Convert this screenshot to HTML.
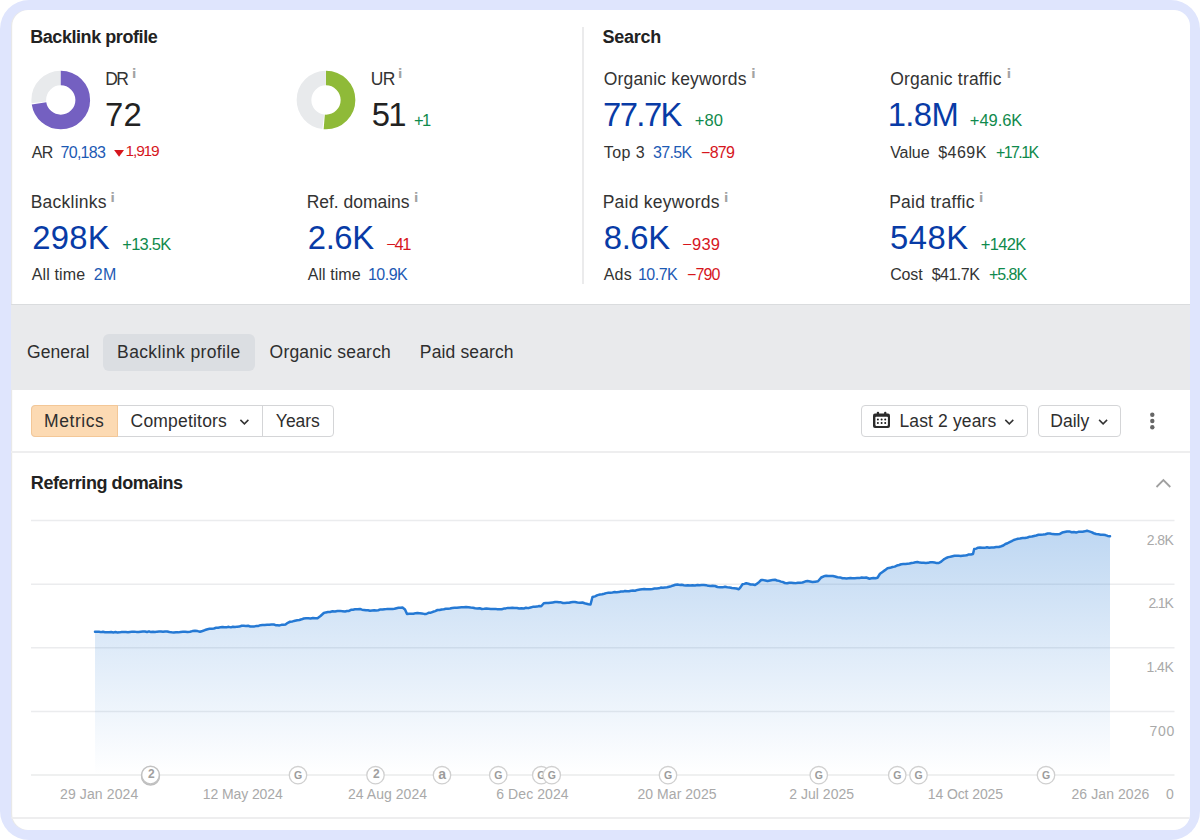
<!DOCTYPE html>
<html lang="en">
<head>
<meta charset="utf-8">
<title>Backlink profile overview</title>
<style>
*{box-sizing:border-box;margin:0;padding:0}
html,body{width:1200px;height:840px;background:#fff;overflow:hidden}
body{font-family:"Liberation Sans", Arial, sans-serif;position:relative}
.frame{position:absolute;left:0;top:0;width:1200px;height:840px;background:#dfe5fd;border-radius:29px}
.card{position:absolute;left:10.6px;top:10px;width:1179.4px;height:820px;background:#fff;border-radius:16px;overflow:hidden;box-shadow:inset 1.2px 0 0 rgba(0,0,0,0.09)}
.page{position:absolute;left:-10.6px;top:-10px;width:1200px;height:840px}
.t{position:absolute;white-space:nowrap;line-height:1}
.inf{font-family:"DejaVu Sans","Liberation Sans",sans-serif;font-size:12.5px;font-weight:700;color:#a3a3a3}
.svg{position:absolute;left:0;top:0}
.vline{position:absolute;left:582.2px;top:26.7px;width:1.9px;height:257.5px;background:#ebebec}
.band{position:absolute;left:0;top:304px;width:1200px;height:86px;background:#e9eaec;border-top:1.5px solid #dadcde}
.pill{position:absolute;left:103px;top:334px;width:152px;height:36.5px;background:#dbdee2;border-radius:6px}
.sep{position:absolute;left:0;width:1200px;height:2px;background:#eeeeef}
.btn{position:absolute;top:405.3px;height:31.5px;border:1.4px solid #d4d5d7;background:#fff;border-radius:4px}
.seg{position:absolute;top:405.3px;height:31.5px;background:#fcdab3;border:1.2px solid #f3c797;border-radius:4px 0 0 4px}
.vdiv{position:absolute;top:405.3px;width:1.3px;height:31.5px;background:#d4d5d7}
</style>
</head>
<body>
<div class="frame"></div>
<div class="card"><div class="page">
<div class="vline"></div>
<div class="band"></div>
<div class="pill"></div>
<div class="sep" style="top:451px"></div>
<div class="sep" style="top:816.8px;height:1.8px"></div>
<div class="btn" style="left:31px;width:302.5px"></div>
<div class="seg" style="left:31px;width:86.5px"></div>
<div class="vdiv" style="left:261.5px"></div>
<div class="btn" style="left:860.5px;width:167.5px"></div>
<div class="btn" style="left:1038.3px;width:82.5px"></div>
<svg class="svg" width="1200" height="840" viewBox="0 0 1200 840">
<defs><linearGradient id="ag" gradientUnits="userSpaceOnUse" x1="0" y1="521" x2="0" y2="775"><stop offset="0" stop-color="#3a86d8" stop-opacity="0.34"/><stop offset="0.55" stop-color="#3a86d8" stop-opacity="0.15"/><stop offset="1" stop-color="#3a86d8" stop-opacity="0"/></linearGradient></defs>
<g transform="rotate(-90 60.75 100)"><circle cx="60.75" cy="100" r="22" fill="none" stroke="#e8eaec" stroke-width="14.7" stroke-dasharray="36.70 101.53" stroke-dashoffset="-100.53"/><circle cx="60.75" cy="100" r="22" fill="none" stroke="#7460c1" stroke-width="14.7" stroke-dasharray="99.53 38.70"/></g>
<g transform="rotate(-90 326 100)"><circle cx="326" cy="100" r="22" fill="none" stroke="#e8eaec" stroke-width="14.7" stroke-dasharray="65.73 72.50" stroke-dashoffset="-71.50"/><circle cx="326" cy="100" r="22" fill="none" stroke="#8fba38" stroke-width="14.7" stroke-dasharray="70.50 67.73"/></g>
<path d="M114.1,150 h9.9 l-4.95,6.7 z" fill="#d6161d"/>
<rect x="31" y="519.75" width="1143.5" height="1.5" fill="#ebecee"/><rect x="31" y="583.5" width="1143.5" height="1.5" fill="#ebecee"/><rect x="31" y="647.0" width="1143.5" height="1.5" fill="#ebecee"/><rect x="31" y="710.75" width="1143.5" height="1.5" fill="#ebecee"/>
<path d="M95.0,631.75 L97.0,631.71 L99.0,631.66 L101.0,632.13 L103.0,631.79 L105.0,632.20 L107.1,632.28 L109.2,632.20 L111.2,632.01 L113.3,632.41 L115.4,632.10 L117.5,632.50 L119.6,632.37 L121.7,632.01 L123.8,631.94 L125.8,632.11 L127.9,632.33 L130.0,632.00 L132.1,631.64 L134.3,631.65 L136.4,631.88 L138.6,632.05 L140.7,631.70 L142.9,631.49 L145.0,631.50 L147.0,631.96 L149.0,631.36 L151.0,632.07 L153.0,631.74 L155.0,632.00 L157.0,631.63 L159.0,631.51 L161.0,631.55 L163.0,631.84 L165.0,631.50 L167.2,631.51 L169.4,632.06 L171.6,632.36 L173.8,632.50 L176.0,632.32 L178.3,632.37 L180.6,631.92 L182.9,631.83 L185.2,631.86 L187.5,632.00 L190.0,631.72 L192.5,631.11 L195.0,630.75 L197.5,631.11 L200.0,631.75 L202.5,630.98 L205.0,630.05 L207.5,629.25 L209.6,628.78 L211.8,628.83 L213.9,628.44 L216.1,627.77 L218.2,627.70 L220.4,627.34 L222.5,627.00 L224.6,627.29 L226.7,627.17 L228.8,626.84 L230.8,627.36 L232.9,626.71 L235.0,627.00 L237.2,626.63 L239.4,626.57 L241.6,625.80 L243.8,625.75 L245.9,625.93 L248.1,625.77 L250.3,626.44 L252.5,626.50 L254.5,626.40 L256.5,625.96 L258.5,625.89 L260.5,625.16 L262.5,625.00 L264.8,625.05 L267.0,624.87 L269.2,624.76 L271.5,624.57 L273.8,624.50 L275.6,625.13 L277.5,625.25 L279.5,625.40 L281.5,624.86 L283.5,624.81 L285.5,624.50 L287.8,622.79 L290.0,621.75 L292.5,621.40 L295.0,620.75 L297.2,620.30 L299.4,620.00 L301.6,619.31 L303.8,618.50 L306.0,618.29 L308.3,618.33 L310.6,618.50 L312.9,617.97 L315.2,618.26 L317.5,618.25 L320.5,616.00 L323.8,613.00 L325.8,612.41 L327.9,612.04 L330.0,612.00 L332.5,611.33 L335.0,611.54 L337.5,611.00 L340.0,610.88 L342.5,611.14 L345.0,611.50 L347.0,610.97 L349.0,610.88 L351.0,609.83 L353.0,609.66 L355.0,609.25 L357.5,609.16 L360.0,609.00 L362.0,609.64 L364.0,609.94 L366.0,610.33 L368.0,610.23 L370.0,610.75 L372.1,610.48 L374.2,610.23 L376.2,610.42 L378.3,610.26 L380.4,609.44 L382.5,609.50 L384.5,609.15 L386.5,609.10 L388.5,609.00 L390.5,609.09 L392.5,609.00 L394.5,608.77 L396.5,608.22 L398.5,607.72 L400.5,607.74 L402.5,607.50 L405.0,609.50 L407.0,614.00 L409.1,613.70 L411.2,613.65 L413.3,613.74 L415.4,613.34 L417.5,613.00 L419.7,613.26 L421.9,613.59 L424.1,613.88 L426.2,614.00 L428.5,612.86 L430.8,612.70 L433.0,611.81 L435.2,611.08 L437.5,610.00 L439.6,609.98 L441.7,609.42 L443.8,609.17 L445.8,608.70 L447.9,608.85 L450.0,608.50 L452.3,607.96 L454.6,607.75 L456.9,607.65 L459.2,607.41 L461.5,607.34 L463.8,607.25 L466.0,607.12 L468.3,607.29 L470.6,607.61 L472.9,607.78 L475.2,608.19 L477.5,608.50 L479.7,608.22 L481.9,608.95 L484.2,608.84 L486.4,608.57 L488.6,608.73 L490.8,608.88 L493.1,608.98 L495.3,608.88 L497.5,609.25 L499.6,609.31 L501.7,609.21 L503.8,608.60 L505.8,608.40 L507.9,607.89 L510.0,608.00 L512.3,607.78 L514.6,608.05 L516.9,608.07 L519.2,608.58 L521.5,608.16 L523.8,608.50 L526.0,607.79 L528.2,608.14 L530.5,607.47 L532.8,606.83 L535.0,606.75 L537.1,606.62 L539.2,606.06 L541.2,606.25 L543.8,603.25 L546.0,603.02 L548.2,603.11 L550.5,602.78 L552.8,602.40 L555.0,602.00 L557.0,602.02 L559.0,602.30 L561.0,602.35 L563.0,603.01 L565.0,603.00 L567.0,602.82 L569.0,602.81 L571.0,602.27 L573.0,601.99 L575.0,602.00 L577.5,602.40 L580.0,602.70 L582.5,602.50 L584.5,603.27 L586.5,603.73 L588.5,604.24 L590.5,604.50 L592.5,597.00 L595.0,596.35 L597.5,595.13 L600.0,594.50 L602.1,594.18 L604.2,593.72 L606.2,593.14 L608.3,592.81 L610.4,592.67 L612.5,592.50 L614.6,592.07 L616.7,592.15 L618.8,592.10 L620.8,591.46 L622.9,591.58 L625.0,591.00 L627.0,591.32 L629.0,591.25 L631.0,590.75 L633.0,590.59 L635.0,590.75 L637.5,589.92 L640.0,589.50 L642.1,589.19 L644.2,589.11 L646.2,589.25 L648.3,589.15 L650.4,589.17 L652.5,588.93 L654.6,588.46 L656.7,588.39 L658.8,588.31 L660.8,587.57 L662.9,587.82 L665.0,587.50 L667.1,587.31 L669.2,586.71 L671.2,586.19 L673.3,585.48 L675.4,584.76 L677.5,584.50 L679.6,584.89 L681.7,584.71 L683.8,585.23 L685.8,585.53 L687.9,585.25 L690.0,585.50 L692.5,585.26 L695.0,585.51 L697.5,585.00 L699.6,585.28 L701.8,584.96 L703.9,585.04 L706.1,585.16 L708.2,585.84 L710.4,585.88 L712.5,585.75 L715.0,585.98 L717.5,587.00 L720.0,587.25 L722.5,587.37 L725.0,586.75 L727.3,587.29 L729.6,587.47 L731.9,588.04 L734.2,588.14 L736.5,588.46 L738.8,589.25 L740.6,587.11 L742.5,584.25 L744.4,583.86 L746.2,583.25 L748.4,583.71 L750.6,584.45 L752.8,584.51 L755.0,585.00 L757.1,583.62 L759.2,581.91 L761.2,580.00 L763.3,580.11 L765.4,580.48 L767.5,581.00 L770.0,580.43 L772.5,579.97 L775.0,579.75 L777.0,580.47 L779.0,580.87 L781.0,581.64 L783.0,582.07 L785.0,583.00 L787.1,583.28 L789.3,582.82 L791.4,582.86 L793.6,582.92 L795.7,583.13 L797.9,582.73 L800.0,582.75 L802.5,582.48 L805.0,581.58 L807.5,581.00 L810.0,581.52 L812.5,582.00 L815.2,581.64 L818.0,581.25 L821.2,577.50 L823.8,576.26 L826.2,575.75 L828.4,575.89 L830.6,575.88 L832.8,575.94 L835.0,576.50 L837.5,577.31 L840.0,577.42 L842.5,578.25 L844.5,578.23 L846.5,578.42 L848.5,578.29 L850.5,578.12 L852.5,578.25 L854.8,578.14 L857.1,578.04 L859.4,578.09 L861.7,577.45 L864.0,577.67 L866.2,577.50 L869.5,578.75 L871.5,578.31 L873.5,578.08 L875.5,578.21 L877.5,577.75 L880.0,573.75 L882.5,571.92 L885.0,570.13 L887.5,568.25 L890.0,567.82 L892.5,567.00 L894.7,566.63 L896.9,565.58 L899.1,565.02 L901.2,564.25 L903.3,564.09 L905.4,563.93 L907.5,563.75 L909.5,563.55 L911.5,563.01 L913.5,562.73 L915.5,562.33 L917.5,562.00 L919.6,562.59 L921.7,562.65 L923.8,562.75 L925.9,562.91 L928.1,562.84 L930.3,562.19 L932.5,562.25 L934.6,562.55 L936.7,563.09 L938.8,563.00 L941.2,561.59 L943.8,559.39 L946.2,558.00 L948.3,557.13 L950.4,556.79 L952.5,556.25 L954.5,555.83 L956.5,555.85 L958.5,555.63 L960.5,555.98 L962.5,555.75 L964.6,555.62 L966.7,555.35 L968.8,554.44 L970.9,554.51 L973.0,554.00 L974.2,549.00 L976.2,548.62 L978.1,547.73 L980.0,547.50 L982.3,547.79 L984.6,547.86 L986.9,547.29 L989.2,547.84 L991.5,547.42 L993.8,547.50 L996.2,547.07 L998.8,547.04 L1001.2,546.25 L1003.3,545.50 L1005.4,543.99 L1007.5,543.25 L1009.6,542.11 L1011.7,541.10 L1013.8,540.00 L1015.8,539.38 L1017.9,538.77 L1020.0,538.50 L1022.5,538.03 L1025.0,538.00 L1027.5,537.50 L1029.7,536.63 L1031.9,536.54 L1034.1,535.95 L1036.2,535.50 L1038.5,534.80 L1040.8,534.71 L1043.1,534.59 L1045.4,534.18 L1047.7,533.50 L1050.0,533.50 L1052.5,534.12 L1055.0,534.22 L1057.5,534.25 L1059.9,533.92 L1062.2,532.57 L1064.6,532.01 L1067.0,531.50 L1069.3,531.40 L1071.6,532.21 L1073.9,532.08 L1076.2,532.50 L1078.4,531.87 L1080.5,531.74 L1082.7,531.76 L1084.8,531.34 L1087.0,530.75 L1089.2,531.40 L1091.5,532.15 L1093.8,533.25 L1096.1,534.00 L1098.4,534.16 L1100.7,534.69 L1103.0,534.65 L1105.4,535.06 L1107.7,535.96 L1110.0,536.25 L1110,775 L95,775 Z" fill="url(#ag)"/>
<rect x="31" y="774.25" width="1143.5" height="1.5" fill="#eaebec"/>
<path d="M95.0,631.75 L97.0,631.71 L99.0,631.66 L101.0,632.13 L103.0,631.79 L105.0,632.20 L107.1,632.28 L109.2,632.20 L111.2,632.01 L113.3,632.41 L115.4,632.10 L117.5,632.50 L119.6,632.37 L121.7,632.01 L123.8,631.94 L125.8,632.11 L127.9,632.33 L130.0,632.00 L132.1,631.64 L134.3,631.65 L136.4,631.88 L138.6,632.05 L140.7,631.70 L142.9,631.49 L145.0,631.50 L147.0,631.96 L149.0,631.36 L151.0,632.07 L153.0,631.74 L155.0,632.00 L157.0,631.63 L159.0,631.51 L161.0,631.55 L163.0,631.84 L165.0,631.50 L167.2,631.51 L169.4,632.06 L171.6,632.36 L173.8,632.50 L176.0,632.32 L178.3,632.37 L180.6,631.92 L182.9,631.83 L185.2,631.86 L187.5,632.00 L190.0,631.72 L192.5,631.11 L195.0,630.75 L197.5,631.11 L200.0,631.75 L202.5,630.98 L205.0,630.05 L207.5,629.25 L209.6,628.78 L211.8,628.83 L213.9,628.44 L216.1,627.77 L218.2,627.70 L220.4,627.34 L222.5,627.00 L224.6,627.29 L226.7,627.17 L228.8,626.84 L230.8,627.36 L232.9,626.71 L235.0,627.00 L237.2,626.63 L239.4,626.57 L241.6,625.80 L243.8,625.75 L245.9,625.93 L248.1,625.77 L250.3,626.44 L252.5,626.50 L254.5,626.40 L256.5,625.96 L258.5,625.89 L260.5,625.16 L262.5,625.00 L264.8,625.05 L267.0,624.87 L269.2,624.76 L271.5,624.57 L273.8,624.50 L275.6,625.13 L277.5,625.25 L279.5,625.40 L281.5,624.86 L283.5,624.81 L285.5,624.50 L287.8,622.79 L290.0,621.75 L292.5,621.40 L295.0,620.75 L297.2,620.30 L299.4,620.00 L301.6,619.31 L303.8,618.50 L306.0,618.29 L308.3,618.33 L310.6,618.50 L312.9,617.97 L315.2,618.26 L317.5,618.25 L320.5,616.00 L323.8,613.00 L325.8,612.41 L327.9,612.04 L330.0,612.00 L332.5,611.33 L335.0,611.54 L337.5,611.00 L340.0,610.88 L342.5,611.14 L345.0,611.50 L347.0,610.97 L349.0,610.88 L351.0,609.83 L353.0,609.66 L355.0,609.25 L357.5,609.16 L360.0,609.00 L362.0,609.64 L364.0,609.94 L366.0,610.33 L368.0,610.23 L370.0,610.75 L372.1,610.48 L374.2,610.23 L376.2,610.42 L378.3,610.26 L380.4,609.44 L382.5,609.50 L384.5,609.15 L386.5,609.10 L388.5,609.00 L390.5,609.09 L392.5,609.00 L394.5,608.77 L396.5,608.22 L398.5,607.72 L400.5,607.74 L402.5,607.50 L405.0,609.50 L407.0,614.00 L409.1,613.70 L411.2,613.65 L413.3,613.74 L415.4,613.34 L417.5,613.00 L419.7,613.26 L421.9,613.59 L424.1,613.88 L426.2,614.00 L428.5,612.86 L430.8,612.70 L433.0,611.81 L435.2,611.08 L437.5,610.00 L439.6,609.98 L441.7,609.42 L443.8,609.17 L445.8,608.70 L447.9,608.85 L450.0,608.50 L452.3,607.96 L454.6,607.75 L456.9,607.65 L459.2,607.41 L461.5,607.34 L463.8,607.25 L466.0,607.12 L468.3,607.29 L470.6,607.61 L472.9,607.78 L475.2,608.19 L477.5,608.50 L479.7,608.22 L481.9,608.95 L484.2,608.84 L486.4,608.57 L488.6,608.73 L490.8,608.88 L493.1,608.98 L495.3,608.88 L497.5,609.25 L499.6,609.31 L501.7,609.21 L503.8,608.60 L505.8,608.40 L507.9,607.89 L510.0,608.00 L512.3,607.78 L514.6,608.05 L516.9,608.07 L519.2,608.58 L521.5,608.16 L523.8,608.50 L526.0,607.79 L528.2,608.14 L530.5,607.47 L532.8,606.83 L535.0,606.75 L537.1,606.62 L539.2,606.06 L541.2,606.25 L543.8,603.25 L546.0,603.02 L548.2,603.11 L550.5,602.78 L552.8,602.40 L555.0,602.00 L557.0,602.02 L559.0,602.30 L561.0,602.35 L563.0,603.01 L565.0,603.00 L567.0,602.82 L569.0,602.81 L571.0,602.27 L573.0,601.99 L575.0,602.00 L577.5,602.40 L580.0,602.70 L582.5,602.50 L584.5,603.27 L586.5,603.73 L588.5,604.24 L590.5,604.50 L592.5,597.00 L595.0,596.35 L597.5,595.13 L600.0,594.50 L602.1,594.18 L604.2,593.72 L606.2,593.14 L608.3,592.81 L610.4,592.67 L612.5,592.50 L614.6,592.07 L616.7,592.15 L618.8,592.10 L620.8,591.46 L622.9,591.58 L625.0,591.00 L627.0,591.32 L629.0,591.25 L631.0,590.75 L633.0,590.59 L635.0,590.75 L637.5,589.92 L640.0,589.50 L642.1,589.19 L644.2,589.11 L646.2,589.25 L648.3,589.15 L650.4,589.17 L652.5,588.93 L654.6,588.46 L656.7,588.39 L658.8,588.31 L660.8,587.57 L662.9,587.82 L665.0,587.50 L667.1,587.31 L669.2,586.71 L671.2,586.19 L673.3,585.48 L675.4,584.76 L677.5,584.50 L679.6,584.89 L681.7,584.71 L683.8,585.23 L685.8,585.53 L687.9,585.25 L690.0,585.50 L692.5,585.26 L695.0,585.51 L697.5,585.00 L699.6,585.28 L701.8,584.96 L703.9,585.04 L706.1,585.16 L708.2,585.84 L710.4,585.88 L712.5,585.75 L715.0,585.98 L717.5,587.00 L720.0,587.25 L722.5,587.37 L725.0,586.75 L727.3,587.29 L729.6,587.47 L731.9,588.04 L734.2,588.14 L736.5,588.46 L738.8,589.25 L740.6,587.11 L742.5,584.25 L744.4,583.86 L746.2,583.25 L748.4,583.71 L750.6,584.45 L752.8,584.51 L755.0,585.00 L757.1,583.62 L759.2,581.91 L761.2,580.00 L763.3,580.11 L765.4,580.48 L767.5,581.00 L770.0,580.43 L772.5,579.97 L775.0,579.75 L777.0,580.47 L779.0,580.87 L781.0,581.64 L783.0,582.07 L785.0,583.00 L787.1,583.28 L789.3,582.82 L791.4,582.86 L793.6,582.92 L795.7,583.13 L797.9,582.73 L800.0,582.75 L802.5,582.48 L805.0,581.58 L807.5,581.00 L810.0,581.52 L812.5,582.00 L815.2,581.64 L818.0,581.25 L821.2,577.50 L823.8,576.26 L826.2,575.75 L828.4,575.89 L830.6,575.88 L832.8,575.94 L835.0,576.50 L837.5,577.31 L840.0,577.42 L842.5,578.25 L844.5,578.23 L846.5,578.42 L848.5,578.29 L850.5,578.12 L852.5,578.25 L854.8,578.14 L857.1,578.04 L859.4,578.09 L861.7,577.45 L864.0,577.67 L866.2,577.50 L869.5,578.75 L871.5,578.31 L873.5,578.08 L875.5,578.21 L877.5,577.75 L880.0,573.75 L882.5,571.92 L885.0,570.13 L887.5,568.25 L890.0,567.82 L892.5,567.00 L894.7,566.63 L896.9,565.58 L899.1,565.02 L901.2,564.25 L903.3,564.09 L905.4,563.93 L907.5,563.75 L909.5,563.55 L911.5,563.01 L913.5,562.73 L915.5,562.33 L917.5,562.00 L919.6,562.59 L921.7,562.65 L923.8,562.75 L925.9,562.91 L928.1,562.84 L930.3,562.19 L932.5,562.25 L934.6,562.55 L936.7,563.09 L938.8,563.00 L941.2,561.59 L943.8,559.39 L946.2,558.00 L948.3,557.13 L950.4,556.79 L952.5,556.25 L954.5,555.83 L956.5,555.85 L958.5,555.63 L960.5,555.98 L962.5,555.75 L964.6,555.62 L966.7,555.35 L968.8,554.44 L970.9,554.51 L973.0,554.00 L974.2,549.00 L976.2,548.62 L978.1,547.73 L980.0,547.50 L982.3,547.79 L984.6,547.86 L986.9,547.29 L989.2,547.84 L991.5,547.42 L993.8,547.50 L996.2,547.07 L998.8,547.04 L1001.2,546.25 L1003.3,545.50 L1005.4,543.99 L1007.5,543.25 L1009.6,542.11 L1011.7,541.10 L1013.8,540.00 L1015.8,539.38 L1017.9,538.77 L1020.0,538.50 L1022.5,538.03 L1025.0,538.00 L1027.5,537.50 L1029.7,536.63 L1031.9,536.54 L1034.1,535.95 L1036.2,535.50 L1038.5,534.80 L1040.8,534.71 L1043.1,534.59 L1045.4,534.18 L1047.7,533.50 L1050.0,533.50 L1052.5,534.12 L1055.0,534.22 L1057.5,534.25 L1059.9,533.92 L1062.2,532.57 L1064.6,532.01 L1067.0,531.50 L1069.3,531.40 L1071.6,532.21 L1073.9,532.08 L1076.2,532.50 L1078.4,531.87 L1080.5,531.74 L1082.7,531.76 L1084.8,531.34 L1087.0,530.75 L1089.2,531.40 L1091.5,532.15 L1093.8,533.25 L1096.1,534.00 L1098.4,534.16 L1100.7,534.69 L1103.0,534.65 L1105.4,535.06 L1107.7,535.96 L1110.0,536.25" fill="none" stroke="#2579d4" stroke-width="2.5" stroke-linejoin="round" stroke-linecap="round"/>
<circle cx="150.5" cy="776.1" r="8.9" fill="#fff" stroke="#bdbdbd" stroke-width="1.5"/><circle cx="150.5" cy="775.1" r="8.9" fill="#fff" stroke="#c2c2c2" stroke-width="1.5"/><text x="151.4" y="778.0" text-anchor="middle" font-size="12" font-weight="700" fill="#a0a0a0" font-family='Liberation Sans, Arial, sans-serif'>2</text><circle cx="298" cy="775.2" r="8.7" fill="#fff" stroke="#d0d0d0" stroke-width="1.3"/><text x="298.2" y="778.8" text-anchor="middle" font-size="10.5" font-weight="700" fill="#9c9c9c" font-family='Liberation Sans, Arial, sans-serif'>G</text><circle cx="375.5" cy="775.2" r="8.7" fill="#fff" stroke="#d0d0d0" stroke-width="1.3"/><text x="376.4" y="778.0" text-anchor="middle" font-size="12" font-weight="700" fill="#a0a0a0" font-family='Liberation Sans, Arial, sans-serif'>2</text><circle cx="442" cy="775.2" r="8.7" fill="#fff" stroke="#d0d0d0" stroke-width="1.3"/><text x="442.2" y="778.8" text-anchor="middle" font-size="14" font-weight="700" fill="#9c9c9c" font-family='Liberation Sans, Arial, sans-serif'>a</text><circle cx="498.25" cy="775.2" r="8.7" fill="#fff" stroke="#d0d0d0" stroke-width="1.3"/><text x="498.45" y="778.8" text-anchor="middle" font-size="10.5" font-weight="700" fill="#9c9c9c" font-family='Liberation Sans, Arial, sans-serif'>G</text><circle cx="541.25" cy="775.2" r="8.7" fill="#fff" stroke="#d0d0d0" stroke-width="1.3"/><text x="541.45" y="778.8" text-anchor="middle" font-size="10.5" font-weight="700" fill="#9c9c9c" font-family='Liberation Sans, Arial, sans-serif'>G</text><circle cx="551.75" cy="775.2" r="8.7" fill="#fff" stroke="#d0d0d0" stroke-width="1.3"/><text x="551.95" y="778.8" text-anchor="middle" font-size="10.5" font-weight="700" fill="#9c9c9c" font-family='Liberation Sans, Arial, sans-serif'>G</text><circle cx="668" cy="775.2" r="8.7" fill="#fff" stroke="#d0d0d0" stroke-width="1.3"/><text x="668.2" y="778.8" text-anchor="middle" font-size="10.5" font-weight="700" fill="#9c9c9c" font-family='Liberation Sans, Arial, sans-serif'>G</text><circle cx="818.75" cy="775.2" r="8.7" fill="#fff" stroke="#d0d0d0" stroke-width="1.3"/><text x="818.95" y="778.8" text-anchor="middle" font-size="10.5" font-weight="700" fill="#9c9c9c" font-family='Liberation Sans, Arial, sans-serif'>G</text><circle cx="897.25" cy="775.2" r="8.7" fill="#fff" stroke="#d0d0d0" stroke-width="1.3"/><text x="897.45" y="778.8" text-anchor="middle" font-size="10.5" font-weight="700" fill="#9c9c9c" font-family='Liberation Sans, Arial, sans-serif'>G</text><circle cx="918.5" cy="775.2" r="8.7" fill="#fff" stroke="#d0d0d0" stroke-width="1.3"/><text x="918.7" y="778.8" text-anchor="middle" font-size="10.5" font-weight="700" fill="#9c9c9c" font-family='Liberation Sans, Arial, sans-serif'>G</text><circle cx="1046" cy="775.2" r="8.7" fill="#fff" stroke="#d0d0d0" stroke-width="1.3"/><text x="1046.2" y="778.8" text-anchor="middle" font-size="10.5" font-weight="700" fill="#9c9c9c" font-family='Liberation Sans, Arial, sans-serif'>G</text>
<!-- chevrons -->
<path d="M240.4,419.9 l4,4 l4,-4" fill="none" stroke="#333" stroke-width="1.5"/>
<path d="M1005.3,419.9 l4,4 l4,-4" fill="none" stroke="#333" stroke-width="1.5"/>
<path d="M1099.1,419.9 l4,4 l4,-4" fill="none" stroke="#333" stroke-width="1.5"/>
<path d="M1156.5,487 l6.9,-6.9 l6.9,6.9" fill="none" stroke="#a0a0a0" stroke-width="1.8"/>
<circle cx="1152.3" cy="414.7" r="2.2" fill="#666"/><circle cx="1152.3" cy="421" r="2.2" fill="#666"/><circle cx="1152.3" cy="427.3" r="2.2" fill="#666"/>
<!-- calendar icon -->
<g fill="#2b2b2b"><rect x="873" y="413.4" width="17" height="14.7" rx="2"/><rect x="876.8" y="411.8" width="2.3" height="3.5" rx="1"/><rect x="884.1" y="411.8" width="2.3" height="3.5" rx="1"/></g>
<rect x="875.4" y="416.8" width="12.5" height="9.1" rx="0.8" fill="#fff"/>
<g fill="#1a1a1a"><circle cx="877.9" cy="419.6" r="1"/><circle cx="881.6" cy="419.6" r="1"/><circle cx="885.2" cy="419.6" r="1"/><circle cx="877.9" cy="423" r="1"/><circle cx="881.6" cy="423" r="1"/><circle cx="885.2" cy="423" r="1"/></g>
</svg>
<div class="t" style="left:30.20px;top:28.36px;font-size:18px;color:#222222;font-weight:700;letter-spacing:-0.435px;">Backlink profile</div>
<div class="t" style="left:602.60px;top:28.36px;font-size:18px;color:#222222;font-weight:700;letter-spacing:-0.289px;">Search</div>
<div class="t" style="left:105.20px;top:70.69px;font-size:17.5px;color:#333333;letter-spacing:-1.600px;">DR</div>
<div class="t" style="left:370.70px;top:70.69px;font-size:17.5px;color:#333333;letter-spacing:-0.638px;">UR</div>
<div class="t" style="left:603.70px;top:70.69px;font-size:17.5px;color:#333333;letter-spacing:0.180px;">Organic keywords</div>
<div class="t" style="left:890.20px;top:70.69px;font-size:17.5px;color:#333333;letter-spacing:0.189px;">Organic traffic</div>
<div class="t" style="left:30.70px;top:194.19px;font-size:17.5px;color:#333333;letter-spacing:0.230px;">Backlinks</div>
<div class="t" style="left:306.70px;top:194.19px;font-size:17.5px;color:#333333;letter-spacing:-0.032px;">Ref. domains</div>
<div class="t" style="left:602.70px;top:194.19px;font-size:17.5px;color:#333333;letter-spacing:0.246px;">Paid keywords</div>
<div class="t" style="left:889.20px;top:194.19px;font-size:17.5px;color:#333333;letter-spacing:0.263px;">Paid traffic</div>
<div class="t" style="left:104.90px;top:98.63px;font-size:32.8px;color:#222222;letter-spacing:0.360px;">72</div>
<div class="t" style="left:371.70px;top:98.63px;font-size:32.8px;color:#222222;letter-spacing:-1.600px;">51</div>
<div class="t" style="left:603.10px;top:98.63px;font-size:32.8px;color:#083ba6;letter-spacing:-1.600px;">77.7K</div>
<div class="t" style="left:887.75px;top:98.63px;font-size:32.8px;color:#083ba6;letter-spacing:-0.647px;">1.8M</div>
<div class="t" style="left:32.20px;top:222.13px;font-size:32.8px;color:#083ba6;letter-spacing:0.293px;">298K</div>
<div class="t" style="left:307.80px;top:222.13px;font-size:32.8px;color:#083ba6;letter-spacing:-0.397px;">2.6K</div>
<div class="t" style="left:603.80px;top:222.13px;font-size:32.8px;color:#083ba6;letter-spacing:-0.397px;">8.6K</div>
<div class="t" style="left:890.00px;top:222.13px;font-size:32.8px;color:#083ba6;letter-spacing:0.510px;">548K</div>
<div class="t" style="left:414.00px;top:112.03px;font-size:16.5px;color:#0f8a4c;letter-spacing:-1.600px;">+1</div>
<div class="t" style="left:694.80px;top:112.03px;font-size:16.5px;color:#0f8a4c;letter-spacing:0.094px;">+80</div>
<div class="t" style="left:969.80px;top:112.03px;font-size:16.5px;color:#0f8a4c;letter-spacing:-0.050px;">+49.6K</div>
<div class="t" style="left:122.30px;top:235.53px;font-size:16.5px;color:#0f8a4c;letter-spacing:-0.750px;">+13.5K</div>
<div class="t" style="left:386.30px;top:235.53px;font-size:16.5px;color:#d6161d;letter-spacing:-1.406px;">−41</div>
<div class="t" style="left:682.30px;top:235.53px;font-size:16.5px;color:#d6161d;letter-spacing:0.170px;">−939</div>
<div class="t" style="left:980.80px;top:235.53px;font-size:16.5px;color:#0f8a4c;letter-spacing:-0.666px;">+142K</div>
<div class="t" style="left:31.70px;top:144.96px;font-size:16px;color:#333333;letter-spacing:-0.672px;">AR</div>
<div class="t" style="left:60.50px;top:144.96px;font-size:16px;color:#1d5ab4;letter-spacing:-0.708px;">70,183</div>
<div class="t" style="left:125.50px;top:143.48px;font-size:15.5px;color:#d6161d;letter-spacing:-1.142px;">1,919</div>
<div class="t" style="left:603.70px;top:144.96px;font-size:16px;color:#333333;letter-spacing:0.439px;">Top 3</div>
<div class="t" style="left:653.00px;top:144.96px;font-size:16px;color:#1d5ab4;letter-spacing:-0.660px;">37.5K</div>
<div class="t" style="left:701.00px;top:144.96px;font-size:16px;color:#d6161d;letter-spacing:-0.714px;">−879</div>
<div class="t" style="left:890.20px;top:144.96px;font-size:16px;color:#333333;letter-spacing:-0.084px;">Value</div>
<div class="t" style="left:938.20px;top:144.96px;font-size:16px;color:#333333;letter-spacing:0.477px;">$469K</div>
<div class="t" style="left:996.00px;top:144.96px;font-size:16px;color:#0f8a4c;letter-spacing:-1.600px;">+17.1K</div>
<div class="t" style="left:31.70px;top:267.46px;font-size:16px;color:#333333;letter-spacing:0.135px;">All time</div>
<div class="t" style="left:93.75px;top:267.46px;font-size:16px;color:#1d5ab4;letter-spacing:0.352px;">2M</div>
<div class="t" style="left:307.70px;top:267.46px;font-size:16px;color:#333333;letter-spacing:0.064px;">All time</div>
<div class="t" style="left:368.00px;top:267.46px;font-size:16px;color:#1d5ab4;letter-spacing:-0.535px;">10.9K</div>
<div class="t" style="left:603.70px;top:267.46px;font-size:16px;color:#333333;letter-spacing:0.215px;">Ads</div>
<div class="t" style="left:638.00px;top:267.46px;font-size:16px;color:#1d5ab4;letter-spacing:-0.535px;">10.7K</div>
<div class="t" style="left:687.00px;top:267.46px;font-size:16px;color:#d6161d;letter-spacing:-0.880px;">−790</div>
<div class="t" style="left:890.20px;top:267.46px;font-size:16px;color:#333333;letter-spacing:-0.151px;">Cost</div>
<div class="t" style="left:931.70px;top:267.46px;font-size:16px;color:#333333;letter-spacing:-0.508px;">$41.7K</div>
<div class="t" style="left:989.00px;top:267.46px;font-size:16px;color:#0f8a4c;letter-spacing:-1.021px;">+5.8K</div>
<div class="t" style="left:27.00px;top:343.69px;font-size:17.5px;color:#2e2e2e;letter-spacing:0.022px;">General</div>
<div class="t" style="left:117.10px;top:343.69px;font-size:17.5px;color:#2e2e2e;letter-spacing:0.370px;">Backlink profile</div>
<div class="t" style="left:269.60px;top:343.69px;font-size:17.5px;color:#2e2e2e;letter-spacing:0.198px;">Organic search</div>
<div class="t" style="left:419.85px;top:343.69px;font-size:17.5px;color:#2e2e2e;letter-spacing:0.132px;">Paid search</div>
<div class="t" style="left:44.10px;top:412.94px;font-size:17.5px;color:#2e2e2e;letter-spacing:0.560px;">Metrics</div>
<div class="t" style="left:130.60px;top:412.94px;font-size:17.5px;color:#2e2e2e;letter-spacing:0.191px;">Competitors</div>
<div class="t" style="left:275.85px;top:412.94px;font-size:17.5px;color:#2e2e2e;letter-spacing:-0.027px;">Years</div>
<div class="t" style="left:899.50px;top:412.94px;font-size:17.5px;color:#2e2e2e;letter-spacing:0.129px;">Last 2 years</div>
<div class="t" style="left:1050.30px;top:412.94px;font-size:17.5px;color:#2e2e2e;letter-spacing:0.013px;">Daily</div>
<div class="t" style="left:30.80px;top:473.76px;font-size:18px;color:#222222;font-weight:700;letter-spacing:-0.420px;">Referring domains</div>
<div class="t" style="left:1146.70px;top:532.55px;font-size:14px;color:#a9a9a9;letter-spacing:-0.587px;">2.8K</div>
<div class="t" style="left:1148.40px;top:596.30px;font-size:14px;color:#a9a9a9;letter-spacing:-1.154px;">2.1K</div>
<div class="t" style="left:1146.40px;top:659.80px;font-size:14px;color:#a9a9a9;letter-spacing:-0.487px;">1.4K</div>
<div class="t" style="left:1149.40px;top:723.55px;font-size:14px;color:#a9a9a9;letter-spacing:0.714px;">700</div>
<div class="t" style="left:1166.10px;top:787.15px;font-size:14px;color:#a9a9a9;">0</div>
<div class="t" style="left:60.00px;top:787.25px;font-size:14px;color:#a9a9a9;letter-spacing:0.122px;">29 Jan 2024</div>
<div class="t" style="left:202.75px;top:787.25px;font-size:14px;color:#a9a9a9;letter-spacing:-0.091px;">12 May 2024</div>
<div class="t" style="left:348.00px;top:787.25px;font-size:14px;color:#a9a9a9;letter-spacing:0.038px;">24 Aug 2024</div>
<div class="t" style="left:496.25px;top:787.25px;font-size:14px;color:#a9a9a9;letter-spacing:0.076px;">6 Dec 2024</div>
<div class="t" style="left:637.50px;top:787.25px;font-size:14px;color:#a9a9a9;letter-spacing:0.043px;">20 Mar 2025</div>
<div class="t" style="left:789.25px;top:787.25px;font-size:14px;color:#a9a9a9;letter-spacing:0.020px;">2 Jul 2025</div>
<div class="t" style="left:927.75px;top:787.25px;font-size:14px;color:#a9a9a9;letter-spacing:-0.099px;">14 Oct 2025</div>
<div class="t" style="left:1071.50px;top:787.25px;font-size:14px;color:#a9a9a9;letter-spacing:0.082px;">26 Jan 2026</div>
<div class="t inf" style="left:131.9px;top:68px">i</div><div class="t inf" style="left:397.9px;top:68px">i</div><div class="t inf" style="left:751.3px;top:68px">i</div><div class="t inf" style="left:1006.8px;top:68px">i</div><div class="t inf" style="left:110.4px;top:191.5px">i</div><div class="t inf" style="left:413.9px;top:191.5px">i</div><div class="t inf" style="left:723.9px;top:191.5px">i</div><div class="t inf" style="left:978.9px;top:191.5px">i</div>
</div></div>
</body>
</html>
